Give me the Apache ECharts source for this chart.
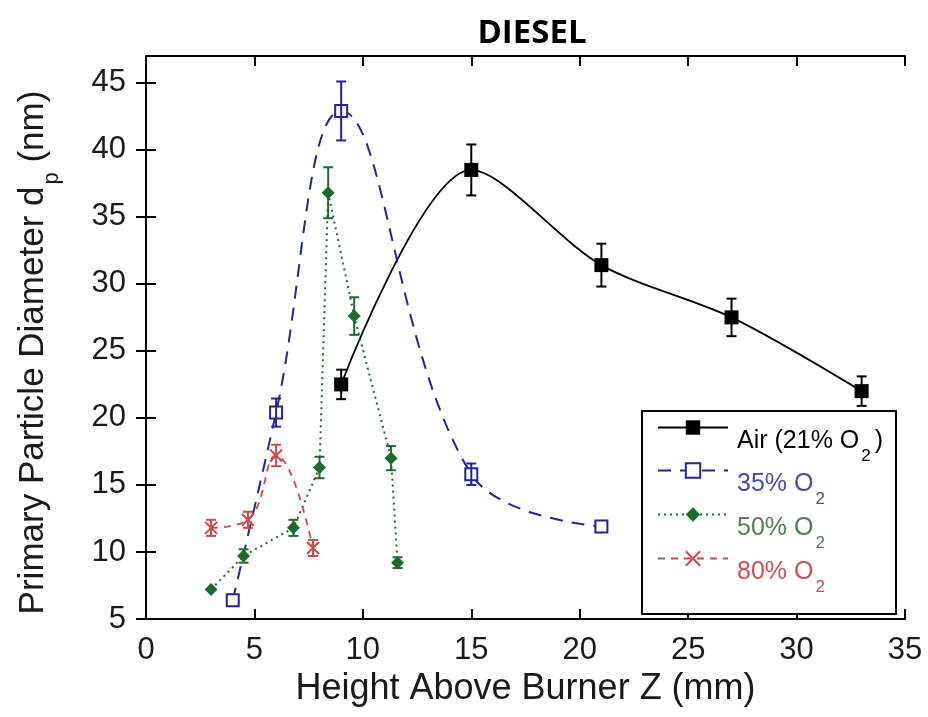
<!DOCTYPE html>
<html>
<head>
<meta charset="utf-8">
<script src="https://cdn.jsdelivr.net/npm/echarts@6/dist/echarts.min.js"></script>
<style>
html,body{margin:0;padding:0;background:#fff;}
#chart{width:928px;height:717px;}
</style>
</head>
<body>
<div id="chart"></div>
<script>
// ---- Data ----
const titleText = 'DIESEL';
const xTicks = [0, 5, 10, 15, 20, 25, 30, 35];
const yTicks = [5, 10, 15, 20, 25, 30, 35, 40, 45];

const airX = [9, 15, 21, 27, 33];
const airY = [22.5, 38.5, 31.4, 27.5, 22.0];
const airErr = [1.1, 1.9, 1.6, 1.4, 1.1];

const o35X = [4, 6, 9, 15, 21];
const o35Y = [6.4, 20.4, 42.9, 15.8, 11.9];
const o35Err = [0, 1.05, 2.2, 0.8, 0];

const o50X = [3, 4.5, 6.8, 8, 8.4, 9.6, 11.3, 11.6];
const o50Y = [7.2, 9.7, 11.8, 16.3, 36.8, 27.6, 17.0, 9.2];
const o50Err = [0, 0.5, 0.6, 0.8, 1.9, 1.4, 0.9, 0.4];

const o80X = [3, 4.7, 6, 7.7];
const o80Y = [11.8, 12.4, 17.2, 10.3];
const o80Err = [0.6, 0.6, 0.8, 0.6];

const names = ['Air (21% O2)', '35% O2', '50% O2', '80% O2'];

// ---- Styles ----
const cAir = '#000000';
const c35 = '#23239a';
const c50 = '#1d6b2c';
const c80 = '#d04848';
const t35 = '#4a4aa8';
const t50 = '#4f7f55';
const t80 = '#cc5050';
const FONT = 'Liberation Sans';

function pairs(xs, ys) { return xs.map((x, i) => [x, ys[i]]); }

function errSeries(xs, ys, es, color, w) {
  const data = [];
  xs.forEach((x, i) => { if (es[i] > 0) data.push([x, ys[i] - es[i], ys[i] + es[i]]); });
  return {
    type: 'custom', silent: true, z: 6, data: data,
    encode: { x: 0, y: [1, 2] },
    renderItem: function (params, api) {
      const x = api.value(0);
      const lo = api.coord([x, api.value(1)]);
      const hi = api.coord([x, api.value(2)]);
      const cap = 5;
      const st = { stroke: color, lineWidth: w };
      return {
        type: 'group', children: [
          { type: 'line', shape: { x1: lo[0], y1: lo[1], x2: hi[0], y2: hi[1] }, style: st },
          { type: 'line', shape: { x1: lo[0] - cap, y1: lo[1], x2: lo[0] + cap, y2: lo[1] }, style: st },
          { type: 'line', shape: { x1: hi[0] - cap, y1: hi[1], x2: hi[0] + cap, y2: hi[1] }, style: st }
        ]
      };
    }
  };
}

function legendRich(color) {
  return {
    n: { fontSize: 25, lineHeight: 25, color: color, fontFamily: FONT, verticalAlign: 'top', padding: [14, 0, 0, 4] },
    s: { fontSize: 17, lineHeight: 17, color: color, fontFamily: FONT, verticalAlign: 'top', padding: [33, 0, 0, 2] }
  };
}
function legendFmt(name) {
  const idx = name.indexOf('O2');
  const pre = name.slice(0, idx + 1);
  const post = name.slice(idx + 2);
  return '{n|' + pre + '}{s|2}' + (post ? '{n|' + post + '}' : '');
}
const rowCenters = [440, 483, 527, 571];
const legColors = [cAir, t35, t50, t80];
const legends = names.map((nm, i) => ({
  data: [nm], left: 657, top: rowCenters[i] - 25, orient: 'vertical',
  itemWidth: 70, itemHeight: 18, padding: 0, selectedMode: false,
  formatter: legendFmt,
  textStyle: { color: legColors[i], rich: legendRich(legColors[i]) }
}));

const xSymbol = 'path://M0,0L10,10M10,0L0,10';

const option = {
  backgroundColor: '#ffffff',
  animation: false,
  title: {
    text: titleText, left: 527, top: 12, textAlign: 'center',
    textStyle: { fontFamily: 'Open Sans', fontWeight: 'bold', fontSize: 33, color: '#000' }
  },
  grid: { left: 146, right: 23, top: 56, bottom: 98, containLabel: false },
  graphic: [{
    type: 'rect', z: 3, left: 641, top: 410,
    shape: { width: 254, height: 203 },
    style: { fill: '#fff', stroke: '#000', lineWidth: 2 }
  }],
  legend: legends,
  xAxis: [{
    type: 'value', min: 0, max: 35, interval: 5, position: 'bottom',
    name: 'Height Above Burner Z (mm)', nameLocation: 'middle', nameGap: 51,
    nameTextStyle: { fontFamily: FONT, fontSize: 36, color: '#1a1a1a' },
    axisLine: { lineStyle: { color: '#000', width: 2 } },
    axisTick: { inside: true, length: 10, lineStyle: { color: '#000', width: 2 } },
    axisLabel: { fontFamily: FONT, fontSize: 31, color: '#1a1a1a', margin: 16, customValues: xTicks },
    splitLine: { show: false }
  }, {
    type: 'value', min: 0, max: 35, interval: 5, position: 'top',
    axisLine: { lineStyle: { color: '#000', width: 2 } },
    axisTick: { inside: true, length: 10, lineStyle: { color: '#000', width: 2 } },
    axisLabel: { show: false }, splitLine: { show: false }
  }],
  yAxis: [{
    type: 'value', min: 5, max: 47, interval: 5, position: 'left',
    name: '{n|Primary Particle Diameter d}{s|p}{n1| (nm)}',
    nameLocation: 'middle', nameGap: 95,
    nameTextStyle: {
      rich: {
        n: { fontFamily: FONT, fontSize: 35, lineHeight: 35, color: '#1a1a1a', verticalAlign: 'top' },
        n1: { fontFamily: FONT, fontSize: 35, lineHeight: 35, color: '#1a1a1a', verticalAlign: 'top', padding: [0, 30, 0, 0] },
        s: { fontFamily: FONT, fontSize: 22, lineHeight: 22, color: '#1a1a1a', verticalAlign: 'top', padding: [25, 0, 0, 2] }
      }
    },
    axisLine: { lineStyle: { color: '#000', width: 2 } },
    axisTick: { inside: true, length: 10, lineStyle: { color: '#000', width: 2 }, customValues: yTicks },
    axisLabel: { fontFamily: FONT, fontSize: 31, color: '#1a1a1a', margin: 20, customValues: yTicks },
    splitLine: { show: false }
  }, {
    type: 'value', min: 5, max: 47, interval: 5, position: 'right',
    axisLine: { lineStyle: { color: '#000', width: 2 } },
    axisTick: { inside: true, length: 10, lineStyle: { color: '#000', width: 2 }, customValues: yTicks },
    axisLabel: { show: false }, splitLine: { show: false }
  }],
  series: [
    {
      name: names[0], type: 'line', data: pairs(airX, airY), smooth: 0.3,
      symbol: 'rect', symbolSize: 14, z: 4,
      lineStyle: { color: cAir, width: 1.8, type: 'solid' },
      itemStyle: { color: cAir }
    },
    {
      name: names[1], type: 'line', data: pairs(o35X, o35Y), smooth: 0.4,
      symbol: 'emptyRect', symbolSize: 12, z: 4,
      lineStyle: { color: c35, width: 2, type: [13, 9] },
      itemStyle: { color: c35, borderColor: c35, borderWidth: 2 }
    },
    {
      name: names[2], type: 'line', data: pairs(o50X, o50Y), smooth: false,
      symbol: 'diamond', symbolSize: 13, z: 4,
      lineStyle: { color: c50, width: 2, type: [2, 4] },
      itemStyle: { color: c50 }
    },
    {
      name: names[3], type: 'line', data: pairs(o80X, o80Y), smooth: 0.45,
      symbol: xSymbol, symbolSize: 12, z: 4,
      lineStyle: { color: c80, width: 1.8, type: [7, 6] },
      itemStyle: { color: 'none', borderColor: c80, borderWidth: 2 }
    },
    errSeries(airX, airY, airErr, cAir, 2),
    errSeries(o35X, o35Y, o35Err, c35, 2),
    errSeries(o50X, o50Y, o50Err, c50, 2),
    errSeries(o80X, o80Y, o80Err, c80, 2)
  ]
};

const chart = echarts.init(document.getElementById('chart'), null, { renderer: 'canvas' });
chart.setOption(option);
</script>
</body>
</html>
